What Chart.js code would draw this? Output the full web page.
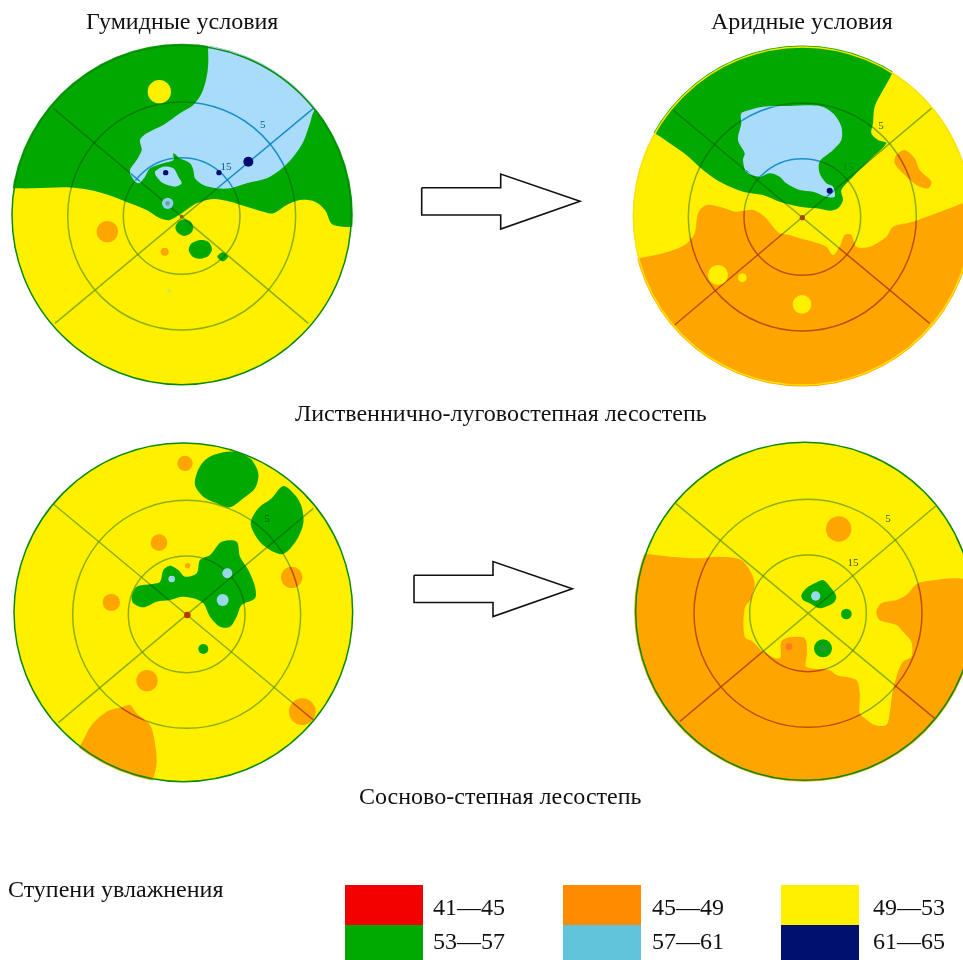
<!DOCTYPE html>
<html lang="ru">
<head>
<meta charset="utf-8">
<title>Ступени увлажнения</title>
<script src="https://cdn.jsdelivr.net/npm/chart.js@4"></script>
<style>
  html, body { margin: 0; background: #fff; }
  body { position: relative; width: 963px; height: 960px; overflow: hidden; font-family: "Liberation Serif", serif; color: #111; }
  canvas { position: absolute; }
  canvas.disc { filter: blur(0.7px); }
  .t { position: absolute; white-space: nowrap; line-height: 1; font-size: 24px; }
  .r { position: absolute; white-space: nowrap; line-height: 1; font-size: 11px; transform: translate(-50%, -50%); filter: blur(0.4px); }
</style>
</head>
<body>
<canvas id="frame" width="963" height="960" style="left:0;top:0"></canvas>
<canvas id="p1" class="disc" width="360" height="395" style="left:0;top:0"></canvas>
<canvas id="p2" class="disc" width="360" height="395" style="left:603px;top:0"></canvas>
<canvas id="p3" class="disc" width="360" height="395" style="left:0;top:400px"></canvas>
<canvas id="p4" class="disc" width="360" height="395" style="left:603px;top:400px"></canvas>
<script>
// Region outlines, in panel units (1080 x 1185 per panel)
const humidLarchGreen = [[-40,565],[30,565],[100,565],[200,562],[270,570],[340,590],[390,610],[440,630],[480,655],[510,660],[545,640],[590,610],[640,597],[690,605],[740,620],[790,635],[820,640],[860,615],[900,600],[945,605],[975,630],[1000,675],[1120,680],[1120,60],[-40,60]];
const humidLarchBlue = [[620,60],[625,180],[620,230],[605,280],[580,315],[540,340],[490,375],[440,400],[420,420],[425,450],[410,480],[390,510],[395,530],[415,550],[435,530],[450,505],[490,490],[520,480],[520,460],[540,475],[570,490],[580,510],[585,535],[610,555],[650,565],[690,565],[740,550],[800,535],[840,510],[880,470],[910,425],[930,370],[945,330],[1020,290],[1020,60]];
const humidLarchBluePatch = [[465,515],[490,500],[520,505],[535,530],[545,550],[525,560],[490,550],[470,530]];
const humidLarchGreenA = [[526,683],[535,665],[553,658],[572,665],[580,683],[572,700],[553,708],[535,700]];
const humidLarchGreenB = [[566,750],[575,730],[600,720],[625,725],[636,748],[625,768],[600,776],[578,770]];
const humidLarchGreenC = [[652,770],[668,757],[684,770],[668,784]];
const humidLarchYellowSpots = [[478,275,35]];
const humidLarchOrangeSpots = [[322,695,32],[494,755,12]];
const humidLarchBlueSpots = [[503,610,17]];
const humidLarchInnerSpots = [[503,610,7]];
const humidLarchNavySpots = [[745,485,15],[657,518,8],[497,518,8]];
const humidLarchPaleSpots = [[507,872,6]];
const humidLarchCentre = [[545,650,6]];

const aridLarchOrange = [[40,785],[105,775],[180,760],[245,735],[275,700],[285,640],[310,615],[350,620],[400,635],[450,630],[485,650],[510,680],[530,700],[560,705],[590,715],[630,725],[670,740],[690,765],[710,740],[725,705],[745,705],[760,740],[800,740],[850,710],[870,680],[930,665],[1000,640],[1080,610],[1140,590],[1140,1220],[40,1220]];
const aridLarchGreen = [[60,355],[155,400],[200,430],[250,465],[300,510],[350,545],[420,575],[480,585],[530,605],[590,620],[640,625],[680,632],[705,625],[720,600],[715,570],[750,530],[800,480],[850,430],[825,420],[805,400],[810,370],[815,320],[840,270],[865,225],[920,60],[60,60]];
const aridLarchBlue = [[415,340],[440,330],[480,320],[560,318],[650,318],[690,340],[715,380],[715,420],[690,450],[650,485],[650,520],[670,550],[690,560],[695,590],[670,590],[630,575],[590,570],[550,550],[530,530],[500,520],[470,530],[430,515],[420,480],[425,460],[405,420],[415,370]];
const aridLarchOrangePatch = [[880,465],[905,450],[935,475],[950,510],[985,545],[975,565],[940,555],[900,520],[875,490]];
const aridLarchYellowSpots = [[345,825,30],[418,833,13],[597,913,28]];
const aridLarchNavySpots = [[680,572,9]];
const aridLarchCentre = [[598,653,8]];

const humidPineGreenA = [[640,165],[700,155],[750,175],[775,220],[765,265],[730,295],[690,322],[650,310],[610,290],[585,255],[592,215],[610,185]];
const humidPineGreenB = [[850,258],[885,285],[905,320],[910,370],[890,420],[850,462],[810,450],[775,420],[752,370],[775,325],[815,295]];
const humidPineGreenC = [[395,590],[410,560],[450,553],[480,545],[490,510],[510,497],[535,510],[555,530],[590,520],[600,480],[630,465],[665,425],[710,425],[720,470],[745,510],[765,560],[765,595],[725,615],[710,650],[690,680],[660,680],[630,650],[610,610],[580,595],[545,590],[510,600],[470,605],[430,622],[400,610]];
const humidPineOrange = [[250,1020],[275,975],[320,935],[370,920],[390,915],[410,940],[450,975],[465,1030],[470,1090],[460,1135],[440,1200],[200,1200],[225,1065]];
const humidPineOrangeSpots = [[555,190,23],[477,428,25],[334,607,26],[441,842,32],[875,532,32],[907,935,40],[563,497,8]];
const humidPineGreenSpots = [[610,747,15]];
const humidPineBlueSpots = [[515,537,10],[682,520,15],[668,600,18]];
const humidPineCentre = [[562,645,10]];

const aridPineOrange = [[40,460],[130,462],[200,470],[290,475],[340,470],[410,478],[440,510],[455,550],[445,595],[425,625],[425,710],[450,725],[480,755],[530,775],[535,725],[560,712],[605,715],[612,760],[610,800],[680,810],[700,825],[760,840],[770,880],[770,940],[785,955],[815,975],[850,975],[860,940],[868,880],[885,815],[900,785],[925,770],[925,725],[900,695],[880,675],[830,660],[820,635],[835,610],[880,600],[910,585],[945,550],[1000,540],[1050,535],[1140,540],[1140,1220],[40,1220]];
const aridPineGreen = [[595,585],[610,565],[635,550],[660,540],[685,565],[700,590],[690,610],[650,625],[620,610],[600,600]];
const aridPineOrangeSpots = [[707,387,38]];
const aridPineRedSpots = [[558,740,10]];
const aridPineGreenSpots = [[730,642,16],[660,745,27]];
const aridPineDarkSpots = [[660,745,11]];
const aridPineBlueSpots = [[638,588,14]];

// Text of the figure
const columnTitles = ['Гумидные условия', 'Аридные условия'];
const rowTitles = ['Лиственнично-луговостепная лесостепь', 'Сосново-степная лесостепь'];
const legendTitle = 'Ступени увлажнения';
const legendLabels = ['41—45', '45—49', '49—53', '53—57', '57—61', '61—65'];
const legendColors = ['#f20000', '#ff8c00', '#fff000', '#00aa00', '#62c4da', '#00106e'];
const ringLabels = ['5', '15'];

const GREEN = '#00a800', YELLOW = '#fff000', ORANGE = '#ffa500', BLUE = '#a8dcfa', NAVY = '#000c70';
const ON_YELLOW = 'rgba(80,140,0,.65)', ON_GREEN = 'rgba(0,70,0,.4)', ON_ORANGE = 'rgba(170,60,0,.8)', ON_BLUE = 'rgba(0,130,195,.85)';

const UNIT = 360 / 1080; // px per panel unit

const panels = [
  { id: 'p1', disc: [545, 645, 509], ring: [545, 648], spokes: [[160, 325, 925, 970], [165, 970, 940, 325]], outline: '#0a8a0a',
    paint: [
      { poly: humidLarchGreen, color: GREEN, tint: ON_GREEN },
      { poly: humidLarchBlue, color: BLUE, tint: ON_BLUE },
      { poly: humidLarchBluePatch, color: BLUE, tint: ON_BLUE },
      { spots: humidLarchYellowSpots, color: YELLOW },
      { spots: humidLarchOrangeSpots, color: ORANGE },
      { spots: humidLarchBlueSpots, color: '#8fd0ea' },
      { spots: humidLarchInnerSpots, color: '#5aa8a0' },
      { poly: humidLarchGreenA, color: GREEN, tint: ON_GREEN },
      { poly: humidLarchGreenB, color: GREEN, tint: ON_GREEN },
      { poly: humidLarchGreenC, color: GREEN, tint: ON_GREEN },
      { spots: humidLarchNavySpots, color: NAVY },
      { spots: humidLarchPaleSpots, color: '#d8e840' },
      { spots: humidLarchCentre, color: '#7a6a00' }
    ] },
  { id: 'p2', disc: [598, 648, 507], ring: [598, 651], spokes: [[210, 330, 980, 970], [985, 325, 215, 975]], outline: '#ffe000',
    paint: [
      { poly: aridLarchOrange, color: ORANGE, tint: ON_ORANGE },
      { poly: aridLarchGreen, color: GREEN, tint: ON_GREEN },
      { poly: aridLarchBlue, color: BLUE, tint: ON_BLUE },
      { poly: aridLarchOrangePatch, color: ORANGE, tint: ON_ORANGE },
      { spots: aridLarchYellowSpots, color: YELLOW },
      { spots: aridLarchNavySpots, color: NAVY },
      { spots: aridLarchCentre, color: '#a04a00' }
    ] },
  { id: 'p3', disc: [550, 637, 508], ring: [560, 643], spokes: [[160, 312, 940, 960], [175, 968, 940, 325]], outline: '#0a8a0a',
    paint: [
      { poly: humidPineGreenA, color: GREEN, tint: ON_GREEN },
      { poly: humidPineGreenB, color: GREEN, tint: ON_GREEN },
      { poly: humidPineGreenC, color: GREEN, tint: ON_GREEN },
      { poly: humidPineOrange, color: ORANGE, tint: ON_ORANGE },
      { spots: humidPineOrangeSpots, color: ORANGE, tint: ON_ORANGE },
      { spots: humidPineGreenSpots, color: GREEN },
      { spots: humidPineBlueSpots, color: '#98d8e8' },
      { spots: humidPineCentre, color: '#b83a00' }
    ] },
  { id: 'p4', disc: [605, 634, 507], ring: [615, 640], spokes: [[218, 310, 995, 955], [230, 965, 998, 318]], outline: '#0a8a0a',
    paint: [
      { poly: aridPineOrange, color: ORANGE, tint: ON_ORANGE },
      { poly: aridPineGreen, color: GREEN, tint: ON_GREEN },
      { spots: aridPineOrangeSpots, color: ORANGE },
      { spots: aridPineRedSpots, color: '#ff7a20' },
      { spots: aridPineGreenSpots, color: GREEN },
      { spots: aridPineDarkSpots, color: '#1f9a30' },
      { spots: aridPineBlueSpots, color: '#98d8e8' }
    ] }
];

Chart.defaults.animation = false;
Chart.defaults.responsive = false;

function toPoints(list) {
  return list.map(p => ({ x: p[0], y: p[1] }));
}
function toBubbles(list) {
  return list.map(s => ({ x: s[0], y: s[1], r: s[2] * UNIT }));
}

// Closed smooth path: wrap around the ends, and double the corners that lie
// outside the disc so the curve does not bulge into it
function toOutline(poly, disc) {
  const out = [];
  poly.forEach(p => {
    out.push(p);
    if (Math.hypot(p[0] - disc[0], p[1] - disc[1]) > disc[2] + 10) out.push(p);
  });
  return toPoints([out[out.length - 1], ...out, out[0], out[1]]);
}

// Ring and spoke lines, painted again for each region so they take its tint
function lineLayers(panel, color, shape) {
  const rings = [175, 342].map(r => [panel.ring[0], panel.ring[1], r]);
  const spokes = [];
  panel.spokes.forEach(s => {
    spokes.push({ x: s[0], y: s[1] }, { x: s[2], y: s[3] }, { x: NaN, y: NaN });
  });
  return [
    { type: 'bubble', data: toBubbles(rings), backgroundColor: 'transparent', borderColor: color, borderWidth: 1.5, clipShape: shape },
    { type: 'line', data: spokes, borderColor: color, borderWidth: 1.5, pointRadius: 0, spanGaps: false, clipShape: shape }
  ];
}

function buildLayers(panel) {
  const d = panel.disc;
  const layers = [{ type: 'bubble', data: toBubbles([d]), backgroundColor: YELLOW, borderWidth: 0 }];
  layers.push(...lineLayers(panel, ON_YELLOW));
  panel.paint.forEach(item => {
    if (item.poly) {
      layers.push({ type: 'line', data: toOutline(item.poly, d), fill: 'shape', backgroundColor: item.color, borderWidth: 0, pointRadius: 0, tension: 0.3, capBezierPoints: false });
    } else {
      layers.push({ type: 'bubble', data: toBubbles(item.spots), backgroundColor: item.color, borderWidth: 0 });
    }
    if (item.tint) layers.push(...lineLayers(panel, item.tint, item));
  });
  layers.push({ type: 'bubble', data: toBubbles([d]), backgroundColor: 'transparent', borderColor: panel.outline, borderWidth: 1.5 });
  // the library draws the highest order first
  layers.forEach((l, i) => { l.order = layers.length - i; });
  return layers;
}

const discClip = {
  id: 'discClip',
  beforeDatasetsDraw(chart, args, opts) {
    const { x, y } = chart.scales;
    chart.ctx.save();
    chart.ctx.beginPath();
    chart.ctx.arc(x.getPixelForValue(opts.disc[0]), y.getPixelForValue(opts.disc[1]), opts.disc[2] * UNIT + 1.5, 0, Math.PI * 2);
    chart.ctx.clip();
  },
  afterDatasetsDraw(chart) {
    chart.ctx.restore();
  },
  beforeDatasetDraw(chart, args) {
    const shape = chart.data.datasets[args.index].clipShape;
    if (!shape) return;
    const { x, y } = chart.scales;
    const ctx = chart.ctx;
    ctx.save();
    ctx.beginPath();
    if (shape.poly) {
      shape.poly.forEach((p, i) => {
        const px = x.getPixelForValue(p[0]), py = y.getPixelForValue(p[1]);
        if (i) ctx.lineTo(px, py); else ctx.moveTo(px, py);
      });
      ctx.closePath();
    } else {
      shape.spots.forEach(s => {
        const px = x.getPixelForValue(s[0]), py = y.getPixelForValue(s[1]);
        ctx.moveTo(px + s[2] * UNIT, py);
        ctx.arc(px, py, s[2] * UNIT, 0, Math.PI * 2);
      });
    }
    ctx.clip();
  },
  afterDatasetDraw(chart, args) {
    if (chart.data.datasets[args.index].clipShape) chart.ctx.restore();
  }
};

panels.forEach(panel => {
  new Chart(document.getElementById(panel.id), {
    type: 'line',
    data: { datasets: buildLayers(panel) },
    plugins: [discClip],
    options: {
      events: [],
      layout: { padding: 0, autoPadding: false },
      plugins: { legend: { display: false }, tooltip: { enabled: false }, discClip: { disc: panel.disc } },
      scales: {
        x: { type: 'linear', display: false, min: 0, max: 1080 },
        y: { type: 'linear', display: false, min: 0, max: 1185, reverse: true }
      }
    }
  });
});

// Arrows and legend boxes share one page-sized chart
const arrowOutline = [[0, 13.7], [79, 13.7], [79, 0], [158.3, 27.3], [79, 55], [79, 41], [0, 41]];
const arrowOrigins = [[421.7, 174], [414, 561.5]];
const swatchColumns = [345, 563, 781];
const swatchRows = [885, 925, 960];

const frameSets = arrowOrigins.map(o => ({
  type: 'line',
  data: toPoints(arrowOutline.concat([arrowOutline[0]]).map(p => [o[0] + p[0], o[1] + p[1]])),
  borderColor: '#111',
  borderWidth: 1.6,
  pointRadius: 0
}));
legendColors.forEach((color, i) => {
  const x0 = swatchColumns[i % 3], x1 = x0 + 78;
  const y0 = swatchRows[Math.floor(i / 3)], y1 = swatchRows[Math.floor(i / 3) + 1];
  frameSets.push({ type: 'line', data: toPoints([[x0, y0], [x1, y0], [x1, y1], [x0, y1]]), fill: 'shape', backgroundColor: color, borderWidth: 0, pointRadius: 0 });
});

new Chart(document.getElementById('frame'), {
  type: 'line',
  data: { datasets: frameSets },
  options: {
    events: [],
    layout: { padding: 0, autoPadding: false },
    plugins: { legend: { display: false }, tooltip: { enabled: false } },
    scales: {
      x: { type: 'linear', display: false, min: 0, max: 963 },
      y: { type: 'linear', display: false, min: 0, max: 960, reverse: true }
    }
  }
});

// Real text on top of the canvases
function addText(cls, text, left, top, color) {
  const el = document.createElement('div');
  el.className = cls;
  el.textContent = text;
  el.style.left = left + 'px';
  el.style.top = top + 'px';
  if (color) el.style.color = color;
  document.body.appendChild(el);
}
addText('t', columnTitles[0], 86, 9);
addText('t', columnTitles[1], 711, 9);
addText('t', rowTitles[0], 295, 401);
addText('t', rowTitles[1], 359, 784);
addText('t', legendTitle, 8, 877);
const labelColumns = [433, 652, 873];
const labelRows = [895, 929];
legendLabels.forEach((label, i) => addText('t', label, labelColumns[i % 3], labelRows[Math.floor(i / 3)]));

addText('r', ringLabels[0], 262.7, 124, '#0a5a80');
addText('r', ringLabels[1], 226, 166, '#0a5a80');
addText('r', ringLabels[0], 881, 125, '#3c6a00');
addText('r', ringLabels[1], 848, 166, '#008a00');
addText('r', ringLabels[0], 267, 518, '#006000');
addText('r', ringLabels[0], 888, 518, '#3c5a00');
addText('r', ringLabels[1], 853, 562, '#3c5a00');
</script>
</body>
</html>
